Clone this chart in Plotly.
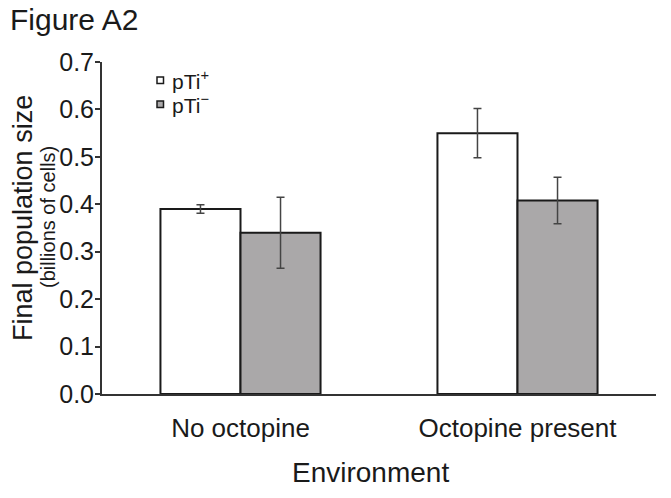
import plotly.graph_objects as go

categories = ["No octopine", "Octopine present"]
series_names = ["pTi<sup>+</sup>", "pTi<sup>−</sup>"]
pti_plus = [0.39, 0.55]
pti_plus_err = [0.009, 0.052]
pti_minus = [0.34, 0.408]
pti_minus_err = [0.075, 0.049]
y_ticks = [0.0, 0.1, 0.2, 0.3, 0.4, 0.5, 0.6, 0.7]

FONT = "Liberation Sans, Arial, sans-serif"
fills = ["#ffffff", "#aaa8a9"]
EDGE = "#1a1a1a"

# plot area in pixels: x 102..656, y 62..394
L, R, T, B = 102, 656, 62, 394
PW, PH = R - L, B - T


def px(x):
    return (x - L) / PW


def py(y):
    return (B - y) / PH


fig = go.Figure()
for name, vals, errs, fill in zip(series_names, [pti_plus, pti_minus], [pti_plus_err, pti_minus_err], fills):
    fig.add_trace(go.Bar(
        x=categories, y=vals, name=name, showlegend=False,
        marker=dict(color=fill, line=dict(color=EDGE, width=2)),
        error_y=dict(type="data", array=errs, visible=True, color="#444444", thickness=1.5, width=4),
    ))

shapes = []
annotations = [
    dict(text="Figure A2", xref="paper", yref="paper", x=px(8), y=py(20),
         xanchor="left", yanchor="middle", showarrow=False, font=dict(size=30, family=FONT)),
    dict(text="Environment", xref="paper", yref="paper", x=px(370), y=py(472),
         xanchor="center", yanchor="middle", showarrow=False, font=dict(size=28, family=FONT)),
    dict(text="Final population size", xref="paper", yref="paper", x=px(23), y=py(218),
         xanchor="center", yanchor="middle", textangle=-90, showarrow=False, font=dict(size=27, family=FONT)),
    dict(text="(billions of cells)", xref="paper", yref="paper", x=px(48), y=py(217),
         xanchor="center", yanchor="middle", textangle=-90, showarrow=False, font=dict(size=20, family=FONT)),
]
legend_rows_y = [80, 104]
for name, fill, yy in zip(series_names, fills, legend_rows_y):
    shapes.append(dict(type="rect", xref="paper", yref="paper",
                       x0=px(157), x1=px(163.5), y0=py(yy + 3.5), y1=py(yy - 3),
                       fillcolor=fill, line=dict(color=EDGE, width=1.5)))
    annotations.append(dict(text=name, xref="paper", yref="paper", x=px(170), y=py(yy),
                            xanchor="left", yanchor="middle", showarrow=False,
                            font=dict(size=21, family=FONT)))

fig.update_layout(
    width=671, height=498,
    margin=dict(l=L, r=671 - R, t=T, b=498 - B),
    paper_bgcolor="white", plot_bgcolor="white",
    barmode="group", bargap=0.422, bargroupgap=0,
    font=dict(family=FONT, color=EDGE),
    showlegend=False,
    xaxis=dict(showline=True, linecolor="#333333", linewidth=2, showgrid=False,
               ticks="outside", ticklen=10, tickcolor="rgba(0,0,0,0)",
               tickfont=dict(size=26, family=FONT), range=[-0.5, 1.5]),
    yaxis=dict(showline=True, linecolor="#333333", linewidth=2, showgrid=False, zeroline=False,
               range=[0, 0.7], tickvals=y_ticks, ticktext=[f"{v:.1f}" for v in y_ticks],
               ticks="outside", ticklen=5, tickwidth=1.5, tickcolor="#333333",
               ticklabelstandoff=-4,
               tickfont=dict(size=25, family=FONT)),
    shapes=shapes,
    annotations=annotations,
)

fig.write_html("out.html")
